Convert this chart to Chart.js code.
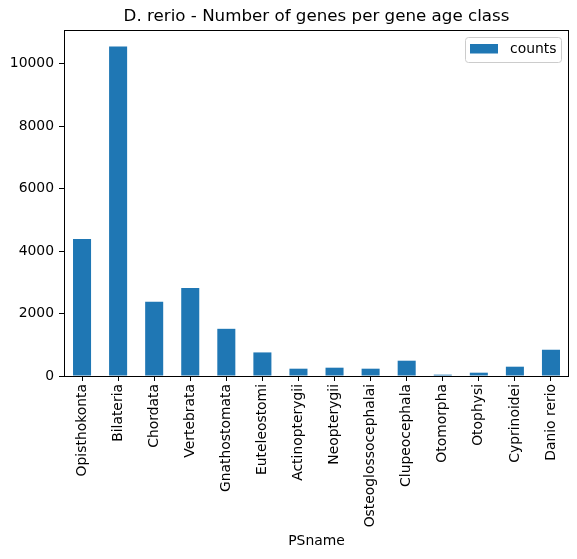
<!DOCTYPE html>
<html>
<head>
<meta charset="utf-8">
<script src="https://cdn.jsdelivr.net/npm/chart.js@4"></script>
<style>
  html, body { margin: 0; padding: 0; background: #fff; }
  #wrap { width: 577px; height: 559px; }
</style>
</head>
<body>
<div id="wrap"><canvas id="geneAgeChart" width="577" height="559"></canvas></div>
<script>
// gene age classes (phylostrata) and gene counts
const categories = ["Opisthokonta", "Bilateria", "Chordata", "Vertebrata", "Gnathostomata",
  "Euteleostomi", "Actinopterygii", "Neopterygii", "Osteoglossocephalai", "Clupeocephala",
  "Otomorpha", "Otophysi", "Cyprinoidei", "Danio rerio"];
const counts = [4390, 10553, 2374, 2821, 1511, 755, 234, 266, 234, 490, 43, 106, 298, 841];
const yTicks = [0, 2000, 4000, 6000, 8000, 10000];
const yMax = 11080;
const titleText = "D. rerio - Number of genes per gene age class";

const barColor = "#1f77b4";
const font = "'DejaVu Sans', sans-serif";

// title centred over plot area, box around plot area, legend inside top right
const framePlugin = {
  id: "frame",
  afterDraw(chart) {
    const { ctx, chartArea: a } = chart;
    ctx.save();
    ctx.fillStyle = "#000";
    ctx.font = "16.7px " + font;
    ctx.textAlign = "center";
    ctx.textBaseline = "middle";
    ctx.fillText(titleText, (a.left + a.right) / 2, 17);

    ctx.strokeStyle = "#000";
    ctx.lineWidth = 1;
    ctx.strokeRect(a.left + 0.5, a.top + 0.5, a.right - a.left - 1, a.bottom - a.top);

    const ds = chart.data.datasets[0];
    const w = 96, h = 25;
    const x = a.right - 8 - w, y = a.top + 7;
    ctx.fillStyle = "rgba(255,255,255,0.8)";
    ctx.strokeStyle = "#cccccc";
    ctx.beginPath();
    ctx.roundRect(x + 0.5, y + 0.5, w, h, 3);
    ctx.fill();
    ctx.stroke();
    ctx.fillStyle = ds.backgroundColor;
    ctx.fillRect(x + 5, y + 7, 28, 9.5);
    ctx.fillStyle = "#000";
    ctx.font = "13.9px " + font;
    ctx.textAlign = "left";
    ctx.fillText(ds.label, x + 45, y + 12.5);
    ctx.restore();
  }
};

new Chart(document.getElementById("geneAgeChart"), {
  type: "bar",
  data: {
    labels: categories,
    datasets: [{
      label: "counts",
      data: counts,
      backgroundColor: barColor,
      borderWidth: 0,
      categoryPercentage: 1.0,
      barPercentage: 0.5,
    }],
  },
  options: {
    responsive: false,
    animation: false,
    devicePixelRatio: 1,
    layout: { padding: { left: 0, right: 8, top: 30, bottom: 0 } },
    plugins: {
      legend: { display: false },
      tooltip: { enabled: false },
      title: { display: false },
    },
    scales: {
      x: {
        offset: true,
        grid: { display: true, offset: false, drawOnChartArea: false, tickLength: 5, color: "#000" },
        border: { display: false },
        ticks: {
          color: "#000",
          font: { family: font, size: 13.9 },
          minRotation: 90,
          maxRotation: 90,
          autoSkip: false,
          padding: 3,
        },
        title: {
          display: true,
          text: "PSname",
          color: "#000",
          font: { family: font, size: 13.9 },
          padding: { top: 4, bottom: 9 },
        },
        afterFit(scale) { scale.height = 183; },
      },
      y: {
        min: 0,
        max: yMax,
        grid: { display: true, drawOnChartArea: false, tickLength: 5, color: "#000" },
        border: { display: false },
        afterBuildTicks(scale) { scale.ticks = yTicks.map(v => ({ value: v })); },
        ticks: {
          color: "#000",
          font: { family: font, size: 13.9 },
          padding: 5,
          callback: (v) => String(v),
        },
        afterFit(scale) { scale.width = 64; },
      },
    },
  },
  plugins: [framePlugin],
});
</script>
</body>
</html>
